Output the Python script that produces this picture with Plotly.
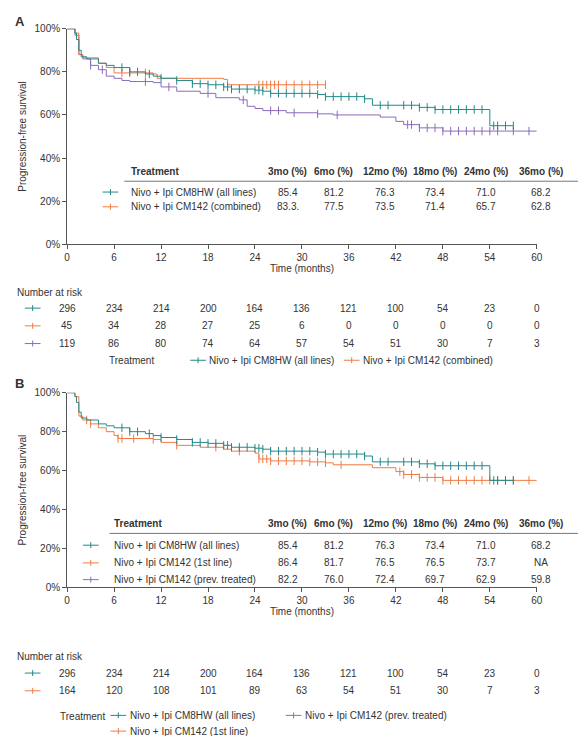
import plotly.graph_objects as go
import numpy as np

TEAL = "#23898a"; ORANGE = "#f27b45"; PURPLE = "#8c6bbd"; TXT = "#333333"
FONT = "Liberation Sans"

# ---------------- data ----------------
hw_t = [0, 1, 1.2, 1.5, 1.8, 2.5, 4, 5, 6, 8, 10, 11, 12, 14, 16, 18, 20, 21, 24, 25, 26, 32, 33, 38, 39, 45, 47, 54, 57]
hw_s = [100, 98, 95, 90, 87, 86, 84, 83, 82, 80, 79, 78, 77, 76, 74.5, 74, 73, 72, 71.5, 71, 70, 69.5, 68.5, 67.5, 64.5, 63.5, 62.5, 55, 55]
hw_c = [7, 8, 9, 10.5, 12, 14, 16, 17, 18, 19, 20, 20.5, 21, 22, 23, 24, 24.5, 25, 26, 27, 28, 29, 30, 31, 32,
        33, 34, 35, 36, 37, 38, 40, 41, 43, 44, 45, 46, 47, 48, 49, 50, 51, 52, 53, 54.5, 55, 56, 57]
cb_t = [0, 1, 1.5, 2, 4, 5, 6, 11, 11.5, 20, 20.5, 33]
cb_s = [100, 98, 88, 86.5, 84, 82, 79.5, 79, 77, 76.5, 74, 74]
cb_c = [7, 8, 10, 24.5, 25, 25.5, 26, 26.5, 27, 28, 29, 30, 31, 32, 33]
pt_t = [0, 1, 1.5, 2, 3, 4, 5, 6, 7, 8, 11, 12, 14, 17, 19, 22, 23, 24, 25, 28, 32, 34, 40, 42, 43, 45, 48, 60]
pt_s = [100, 97, 88, 86, 83, 81, 78, 77, 76, 75.5, 75, 73, 71, 70, 68, 67, 64, 63, 62, 61, 60.5, 60, 59, 57, 55.5, 54, 52.5, 52.5]
pt_c = [3, 4.5, 10, 13, 18, 22.5, 26, 27, 29, 32, 34.5, 43.5, 44, 45, 46, 47, 48, 49, 50, 51, 52, 53, 54, 55, 57, 59]
fl_t = [0, 1, 1.5, 2, 3, 4, 5, 6, 6.5, 11, 12, 14, 17, 20, 21, 24, 24.5, 26, 31, 33, 34, 39, 42, 43, 45, 48, 60]
fl_s = [100, 98, 88, 86, 84, 82, 80, 78, 76.5, 76, 74.5, 73, 72, 71, 70, 69, 66, 65, 64.5, 64, 63, 61.5, 59.5, 58, 56.5, 55, 55]
fl_c = [2.5, 3, 6.5, 7, 8.5, 11, 14, 19, 22, 24.5, 25, 25.5, 26, 27, 28, 29, 30, 31, 32, 33, 35, 42.5, 43, 44,
        45, 46, 47, 48, 49, 50, 51, 52, 53, 54, 55, 56, 57, 59]

xticks = [0, 6, 12, 18, 24, 30, 36, 42, 48, 54, 60]
yticks = [0, 20, 40, 60, 80, 100]
ytick_labels = ["0%", "20%", "40%", "60%", "80%", "100%"]
risk_A = {"hw": [296, 234, 214, 200, 164, 136, 121, 100, 54, 23, 0],
          "cb": [45, 34, 28, 27, 25, 6, 0, 0, 0, 0, 0],
          "pt": [119, 86, 80, 74, 64, 57, 54, 51, 30, 7, 3]}
risk_B = {"hw": [296, 234, 214, 200, 164, 136, 121, 100, 54, 23, 0],
          "fl": [164, 120, 108, 101, 89, 63, 54, 51, 30, 7, 3]}

tab_head = ["3mo (%)", "6mo (%)", "12mo (%)", "18mo (%)", "24mo (%)", "36mo (%)"]
tabA = [("Nivo + Ipi CM8HW (all lines)", TEAL, ["85.4", "81.2", "76.3", "73.4", "71.0", "68.2"]),
        ("Nivo + Ipi CM142 (combined)", ORANGE, ["83.3.", "77.5", "73.5", "71.4", "65.7", "62.8"])]
tabB = [("Nivo + Ipi CM8HW (all lines)", TEAL, ["85.4", "81.2", "76.3", "73.4", "71.0", "68.2"]),
        ("Nivo + Ipi CM142 (1st line)", ORANGE, ["86.4", "81.7", "76.5", "76.5", "73.7", "NA"]),
        ("Nivo + Ipi CM142 (prev. treated)", PURPLE, ["82.2", "76.0", "72.4", "69.7", "62.9", "59.8"])]

W, H = 586, 736
def px(x): return x / W
def py(y): return 1 - y / H

fig = go.Figure()

def step_at(t, s, x):
    i = np.searchsorted(np.array(t), x, side="right") - 1
    return s[max(i, 0)]

def curve(t, s, c, color, xa, ya):
    fig.add_trace(go.Scatter(x=t, y=s, mode="lines", line=dict(color=color, width=1, shape="hv"),
                             xaxis=xa, yaxis=ya, showlegend=False, hoverinfo="skip"))
    fig.add_trace(go.Scatter(x=c, y=[step_at(t, s, v) for v in c], mode="markers",
                             marker=dict(symbol="line-ns-open", size=6, color=color, line=dict(color=color, width=1)),
                             xaxis=xa, yaxis=ya, showlegend=False, hoverinfo="skip"))

curve(pt_t, pt_s, pt_c, PURPLE, "x", "y")
curve(cb_t, cb_s, cb_c, ORANGE, "x", "y")
curve(hw_t, hw_s, hw_c, TEAL, "x", "y")
curve(fl_t, fl_s, fl_c, ORANGE, "x2", "y2")
curve(hw_t, hw_s, hw_c, TEAL, "x2", "y2")

FS = 10
axcommon = dict(range=[0, 60], tickvals=xticks, showline=True, linecolor="#555", ticks="outside",
                ticklen=4, tickcolor="#555", showgrid=False, zeroline=False,
                tickfont=dict(size=FS, color=TXT, family=FONT))
ycommon = dict(range=[0, 100], tickvals=yticks, ticktext=ytick_labels, showline=True,
               linecolor="#555", ticks="outside", ticklen=4, tickcolor="#555", showgrid=False,
               zeroline=False, tickfont=dict(size=FS, color=TXT, family=FONT),
               title=dict(text="Progression-free survival", font=dict(size=FS, color=TXT, family=FONT), standoff=6))
xd = [px(57), px(534)]
fig.update_layout(
    xaxis=dict(domain=xd, anchor="y", title=dict(text="Time (months)", font=dict(size=FS, color=TXT, family=FONT), standoff=2), **axcommon),
    yaxis=dict(domain=[py(234), py(15)], anchor="x", **ycommon),
    xaxis2=dict(domain=xd, anchor="y2", title=dict(text="Time (months)", font=dict(size=FS, color=TXT, family=FONT), standoff=2), **axcommon),
    yaxis2=dict(domain=[py(583), py(385)], anchor="x2", **ycommon),
    width=W, height=H, margin=dict(l=0, r=0, t=0, b=0),
    paper_bgcolor="white", plot_bgcolor="white", font=dict(family=FONT, color=TXT),
)

ann = []
shapes = []
def text(x, y, s, size=FS, xanchor="left", bold=False, xref="paper"):
    ann.append(dict(x=x, y=py(y), xref=xref, yref="paper", text=f"<b>{s}</b>" if bold else s,
                    showarrow=False, xanchor=xanchor, yanchor="middle",
                    font=dict(size=size, color=TXT, family=FONT)))

def mark(xc, y, color, half=8):
    shapes.append(dict(type="line", xref="paper", yref="paper", x0=px(xc - half), x1=px(xc + half),
                       y0=py(y), y1=py(y), line=dict(color=color, width=1)))
    shapes.append(dict(type="line", xref="paper", yref="paper", x0=px(xc), x1=px(xc),
                       y0=py(y - 3), y1=py(y + 3), line=dict(color=color, width=1)))

text(px(2), 8, "A", size=13, bold=True)
text(px(2), 376, "B", size=13, bold=True)

colx = [281, 328, 380, 431, 482, 538]
def table(hy, rows, line_x0, label_x, mk_x, row_y):
    text(px(label_x), hy, "Treatment", bold=True)
    for cx, h in zip(colx, tab_head):
        text(px(cx), hy, h, xanchor="center", bold=True)
    shapes.append(dict(type="line", xref="paper", yref="paper", x0=px(line_x0), x1=1,
                       y0=py(hy + 10), y1=py(hy + 10), line=dict(color="#777", width=1)))
    for (lab, col, vals), ry in zip(rows, row_y):
        mark(mk_x, ry, col)
        text(px(label_x), ry, lab)
        for cx, v in zip(colx, vals):
            text(px(cx), ry, v, xanchor="center")

table(160, tabA, 115, 120, 101, [181, 196])
table(518, tabB, 100, 103, 81, [540, 558, 575])

def risk(ty, rows, ys, xa):
    text(px(4), ty, "Number at risk")
    for (vals, col), y in zip(rows, ys):
        mark(22, y, col)
        for t, v in zip(xticks, vals):
            ann.append(dict(x=t, y=py(y), xref=xa, yref="paper", text=str(v), showarrow=False,
                            xanchor="center", yanchor="middle", font=dict(size=FS, color=TXT, family=FONT)))

risk(283, [(risk_A["hw"], TEAL), (risk_A["cb"], ORANGE), (risk_A["pt"], PURPLE)], [299, 317, 335], "x")
risk(653, [(risk_B["hw"], TEAL), (risk_B["fl"], ORANGE)], [670, 688], "x2")

text(px(98), 352, "Treatment")
mark(190, 352, TEAL); text(px(199), 352, "Nivo + Ipi CM8HW (all lines)")
mark(346, 352, ORANGE); text(px(355), 352, "Nivo + Ipi CM142 (combined)")
text(px(48), 714, "Treatment")
mark(109, 713, TEAL); text(px(119), 713, "Nivo + Ipi CM8HW (all lines)")
mark(109, 729, ORANGE); text(px(119), 729, "Nivo + Ipi CM142 (1st line)")
mark(287, 713, PURPLE); text(px(297), 713, "Nivo + Ipi CM142 (prev. treated)")

fig.update_layout(annotations=ann, shapes=shapes)
fig.write_html("out.html")
